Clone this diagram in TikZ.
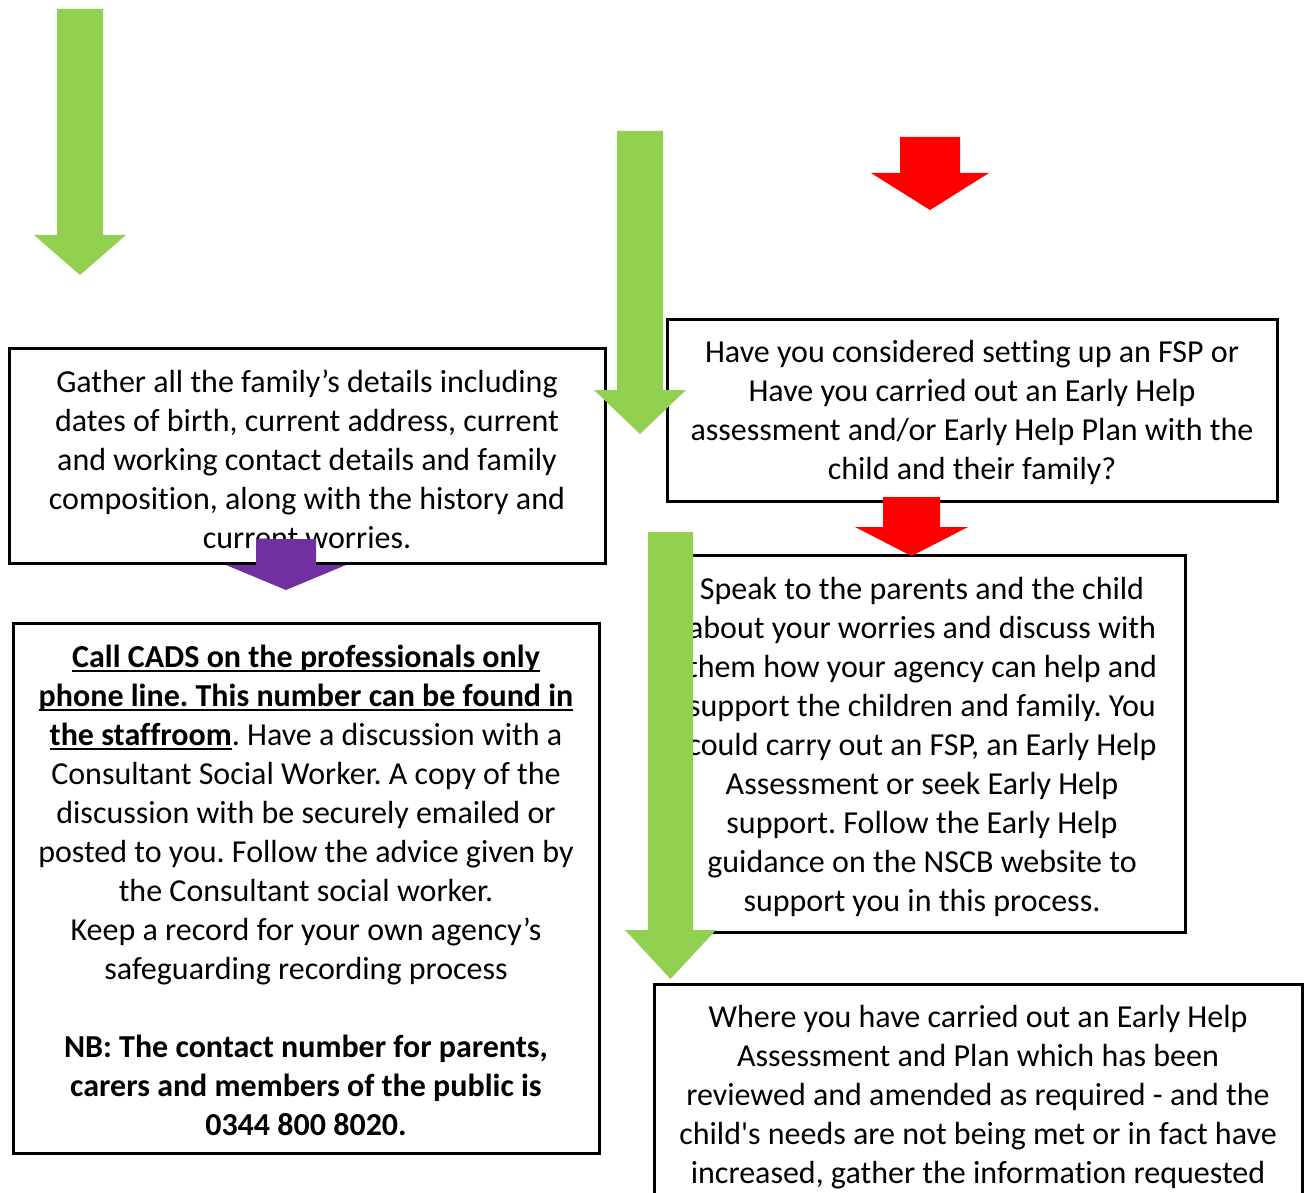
\documentclass[tikz,border=0pt]{standalone}
\usepackage{fontspec}
\setmainfont{Carlito}[Ligatures={TeX,NoCommon}]
\definecolor{ugreen}{RGB}{146,208,80}
\definecolor{ured}{RGB}{255,0,0}
\definecolor{upurple}{RGB}{112,48,160}
\newcommand{\blockarr}[7]{%
  \fill[#1] ({#2-#3},#4) -- ({#2+#3},#4) -- ({#2+#3},#5) -- ({#2+#6},#5)
    -- (#2,#7) -- ({#2-#6},#5) -- ({#2-#3},#5) -- cycle;}
\newcommand{\tstrut}[1]{\rule{0pt}{#1pt}}
\newcommand{\thickul}[1]{\setbox0=\hbox{#1}\leavevmode\rlap{\rule[-5pt]{\wd0}{2.4pt}}\box0}
\begin{document}
\frenchspacing
\begin{tikzpicture}[x=1pt,y=-1pt,
  box/.style={draw=black, line width=3pt, fill=white, align=center, inner sep=0pt,
    font=\fontsize{32}{39}\selectfont}]
\useasboundingbox (0,0) rectangle (1307,1193);
\clip (0,0) rectangle (1307,1193);
% boxes
\node[box, minimum width=596pt, minimum height=215pt] (gather) at (307,455.5)
 {\tstrut{30}Gather all the family’s details including\\
  dates of birth, current address, current\\
  and working contact details and family\\
  composition, along with the history and\\
  current worries.};
\node[box, minimum width=586pt, minimum height=530pt] (cads) at (306,888)
 {\tstrut{27}\thickul{\textbf{Call CADS on the professionals only}}\\
  \thickul{\textbf{phone line. This number can be found in}}\\
  \thickul{\textbf{the staffroom}}. Have a discussion with a\\
  Consultant Social Worker. A copy of the\\
  discussion with be securely emailed or\\
  posted to you. Follow the advice given by\\
  the Consultant social worker.\\
  Keep a record for your own agency’s\\
  safeguarding recording process\\
  \mbox{}\\
  \textbf{NB: The contact number for parents,}\\
  \textbf{carers and members of the public is}\\
  \textbf{0344 800 8020.}};
\node[box, minimum width=610pt, minimum height=182pt] (fsp) at (972,410)
 {\tstrut{27}Have you considered setting up an FSP or\\
  Have you carried out an Early Help\\
  assessment and/or Early Help Plan with the\\
  child and their family?};
\node[box, minimum width=526pt, minimum height=377pt] (speak) at (922,743.5)
 {\tstrut{29}Speak to the parents and the child\\
  about your worries and discuss with\\
  them how your agency can help and\\
  support the children and family. You\\
  could carry out an FSP, an Early Help\\
  Assessment or seek Early Help\\
  support. Follow the Early Help\\
  guidance on the NSCB website to\\
  support you in this process.};
\node[box, anchor=north, minimum width=648pt, inner ysep=21pt, text depth=250pt] (where) at (978,983)
 {Where you have carried out an Early Help\\
  Assessment and Plan which has been\\
  reviewed and amended as required - and the\\
  child\textquotesingle s needs are not being met or in fact have\\
  increased, gather the information requested};
% block arrows
\blockarr{ugreen}{80}{23}{9}{235}{46}{275}
\blockarr{ugreen}{640}{23}{131}{390}{46}{434}
\blockarr{ugreen}{670.5}{22.5}{532}{930}{45.5}{979}
\blockarr{ured}{930}{30}{137}{173}{59}{210}
\blockarr{ured}{911.5}{28.5}{497}{527}{56.5}{556}
\blockarr{upurple}{286}{30}{539}{565}{60}{590}
\end{tikzpicture}
\end{document}
